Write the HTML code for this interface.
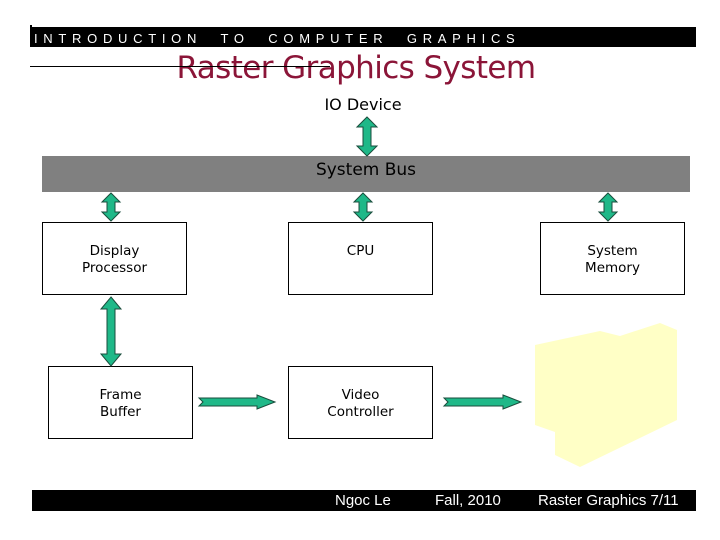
<!DOCTYPE html>
<html><head><style>
body{margin:0;width:720px;height:540px;background:#fff;position:relative;overflow:hidden;font-family:"DejaVu Sans","Liberation Sans",sans-serif}
.a{position:absolute}
.box{position:absolute;border:1px solid #000;background:#fff;width:145px;height:73px;box-sizing:border-box;text-align:center;font-size:13.5px;line-height:17px}
</style></head><body>
<div class="a" style="left:30px;top:27px;width:666px;height:20px;background:#000"></div>
<div class="a" style="left:30px;top:25px;width:2px;height:4px;background:#000"></div>
<div class="a" style="left:34px;top:31px;color:#fff;font-family:'Liberation Sans',sans-serif;font-size:13px;letter-spacing:5.7px;white-space:pre;line-height:16px">INTRODUCTION  TO  COMPUTER  GRAPHICS</div>
<div class="a" style="left:0;width:712px;top:49px;text-align:center;color:#8b1538;font-size:31px;line-height:38px;font-family:'DejaVu Sans',sans-serif;letter-spacing:-0.6px">Raster Graphics System</div>
<div class="a" style="left:30px;top:66px;width:300px;height:1px;background:#000"></div>
<div class="a" style="left:300px;width:126px;top:95px;text-align:center;font-size:16px;line-height:20px">IO Device</div>
<div class="a" style="left:42px;top:156px;width:648px;height:36px;background:#808080"></div>
<div class="a" style="left:42px;width:648px;top:160px;text-align:center;font-size:17px;line-height:20px;color:#000">System Bus</div>
<div class="box" style="left:42px;top:222px;padding-top:20px">Display<br>Processor</div>
<div class="box" style="left:288px;top:222px;padding-top:20px">CPU</div>
<div class="box" style="left:540px;top:222px;padding-top:20px">System<br>Memory</div>
<div class="box" style="left:48px;top:366px;padding-top:20px">Frame<br>Buffer</div>
<div class="box" style="left:288px;top:366px;padding-top:20px">Video<br>Controller</div>
<svg class="a" style="left:0;top:0" width="720" height="540">
<g fill="#1fb888" stroke="#1a4d3c" stroke-width="1">
<polygon points="367,117 377,127 371,127 371,146 377,146 367,156 357,146 363,146 363,127 357,127"/>
<polygon points="111,193 120,202 115,202 115,212 120,212 111,221 102,212 107,212 107,202 102,202"/>
<polygon points="363,193 372,202 367,202 367,212 372,212 363,221 354,212 359,212 359,202 354,202"/>
<polygon points="608,193 617,202 612,202 612,212 617,212 608,221 599,212 604,212 604,202 599,202"/>
<polygon points="111,297 121,309 115,309 115,354 121,354 111,366 101,354 107,354 107,309 101,309"/>
<polygon points="199,398 257,398 257,395 275,402 257,409 257,406 199,406 203,402"/>
<polygon points="444,398 503,398 503,395 521,402 503,409 503,406 444,406 448,402"/>
</g>
<polygon fill="#ffffc6" points="535,345 600,331 620,336 660,323 677,330 677,420 580,467 555,455 555,432 535,425"/>
</svg>
<div class="a" style="left:32px;top:490px;width:664px;height:21px;background:#000"></div>
<div class="a" style="left:335px;top:492px;color:#fff;font-size:15px;line-height:18px;font-family:'Liberation Sans',sans-serif">Ngoc Le</div>
<div class="a" style="left:435px;top:492px;color:#fff;font-size:15px;line-height:18px;font-family:'Liberation Sans',sans-serif">Fall, 2010</div>
<div class="a" style="left:538px;top:492px;color:#fff;font-size:15px;line-height:18px;font-family:'Liberation Sans',sans-serif">Raster Graphics 7/11</div>
</body></html>
